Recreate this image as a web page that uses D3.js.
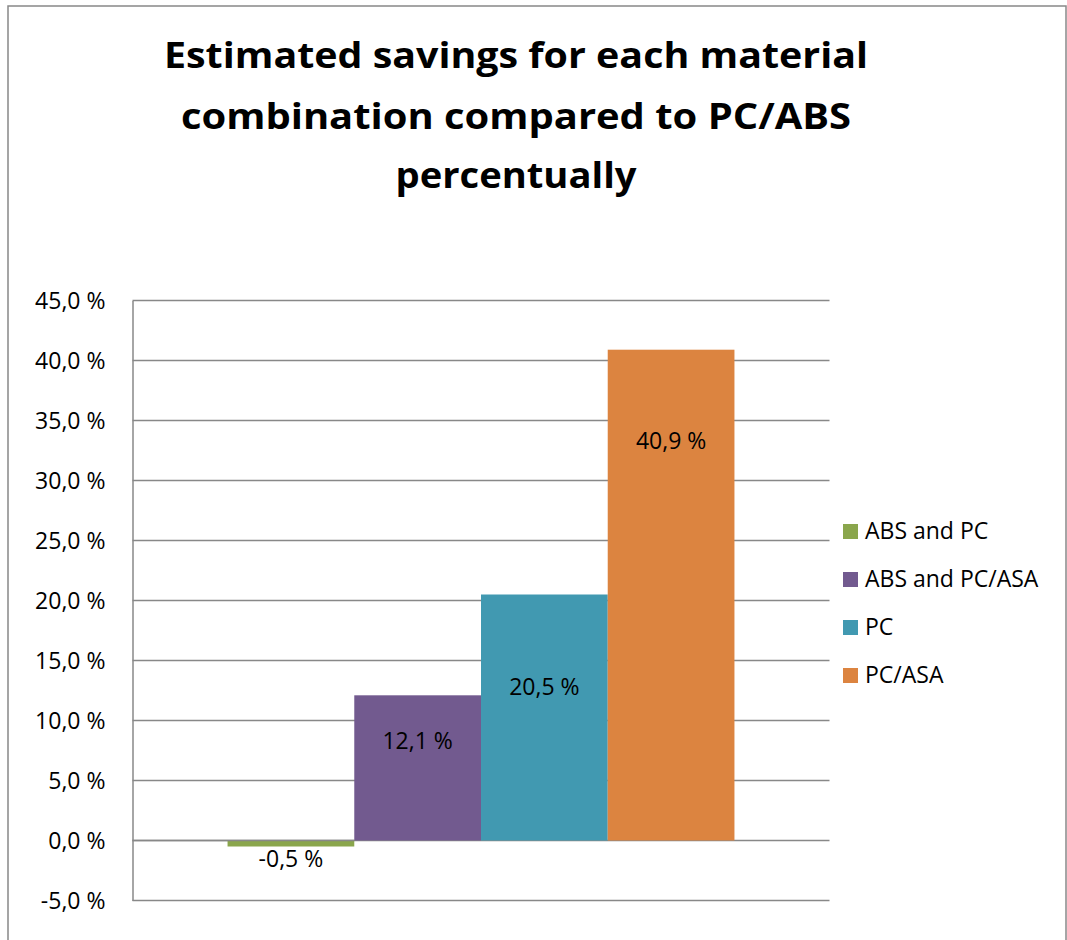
<!DOCTYPE html>
<html>
<head>
<meta charset="utf-8">
<script src="https://cdn.jsdelivr.net/npm/d3@7"></script>
<style>
  html, body { margin: 0; padding: 0; background: #fff; }
  svg { display: block; }
  text { font-family: "Open Sans", sans-serif; fill: #000; }
</style>
</head>
<body>
<svg id="chart" width="1067" height="940"></svg>
<script>
// ---- data ----
const titleLines = ["Estimated savings for each material", "combination compared to PC/ABS", "percentually"];
const seriesNames = ["ABS and PC", "ABS and PC/ASA", "PC", "PC/ASA"];
const seriesValues = [-0.5, 12.1, 20.5, 40.9];
const labelAt = [-2.2, 7.6, 12.1, 32.6];        // baseline of the data labels (in % units)
const seriesColors = ["#8aa64c", "#725a8f", "#4199b1", "#dc8440"];
const yTicks = [-5, 0, 5, 10, 15, 20, 25, 30, 35, 40, 45];

const fmt = v => d3.format(".1f")(v).replace(".", ",").replace("\u2212", "-") + " %";

const svg = d3.select("#chart");

// outer border
svg.append("rect").attr("x", 8).attr("y", 6).attr("width", 1058).attr("height", 950)
  .attr("fill", "none").attr("stroke", "#888").attr("stroke-width", 1.5);

// title
const titleWidths = [704, 670, 241];
const titleBase = [68, 129, 188];
svg.append("g").selectAll("text").data(titleLines).join("text")
  .attr("x", 516).attr("y", (d, i) => titleBase[i])
  .attr("text-anchor", "middle")
  .attr("font-size", 36).attr("font-weight", "bold")
  .attr("textLength", (d, i) => titleWidths[i])
  .attr("lengthAdjust", "spacingAndGlyphs")
  .text(d => d);

// scales
const left = 132.5, right = 829.5;
const y = d3.scaleLinear().domain([-5, 45]).range([900.5, 300.5]);
const bw = (right - left) / 5.5;
const x = d3.scaleBand().domain(seriesNames)
  .range([left + 0.75 * bw, right - 0.75 * bw]).paddingInner(0).paddingOuter(0);

// gridlines
svg.append("g").selectAll("line").data(yTicks).join("line")
  .attr("x1", left).attr("x2", right)
  .attr("y1", d => y(d)).attr("y2", d => y(d))
  .attr("stroke", "#888").attr("stroke-width", 1.5);

// y axis via d3.axisLeft
const yAxis = svg.append("g").attr("transform", `translate(${left},0)`)
  .call(d3.axisLeft(y).tickValues(yTicks).tickSize(0).tickPadding(27).tickFormat(fmt));
yAxis.select(".domain").attr("stroke", "#888").attr("stroke-width", 1.5);
yAxis.selectAll("text").attr("font-size", 23).attr("font-family", "Open Sans, sans-serif")
  .attr("fill", "#000").attr("dy", "0.36em");

// bars
svg.append("g").selectAll("rect").data(seriesValues).join("rect")
  .attr("x", (d, i) => x(seriesNames[i]))
  .attr("width", x.bandwidth())
  .attr("y", d => y(Math.max(0, d)))
  .attr("height", d => Math.abs(y(d) - y(0)))
  .attr("fill", (d, i) => seriesColors[i]);

// redraw zero line over the negative bar edge
svg.append("line").attr("x1", left).attr("x2", x(seriesNames[1]))
  .attr("y1", y(0)).attr("y2", y(0)).attr("stroke", "#888").attr("stroke-width", 1.5);

// data labels
svg.append("g").selectAll("text").data(seriesValues).join("text")
  .attr("x", (d, i) => x(seriesNames[i]) + x.bandwidth() / 2)
  .attr("y", (d, i) => y(labelAt[i]))
  .attr("text-anchor", "middle").attr("font-size", 23)
  .text(d => fmt(d));

// legend
const lg = svg.append("g").attr("transform", "translate(843,524)");
const items = lg.selectAll("g").data(seriesNames).join("g")
  .attr("transform", (d, i) => `translate(0,${i * 48})`);
items.append("rect").attr("width", 15).attr("height", 15)
  .attr("fill", (d, i) => seriesColors[i]);
items.append("text").attr("x", 22).attr("y", 15).attr("font-size", 23).text(d => d);
</script>
</body>
</html>
